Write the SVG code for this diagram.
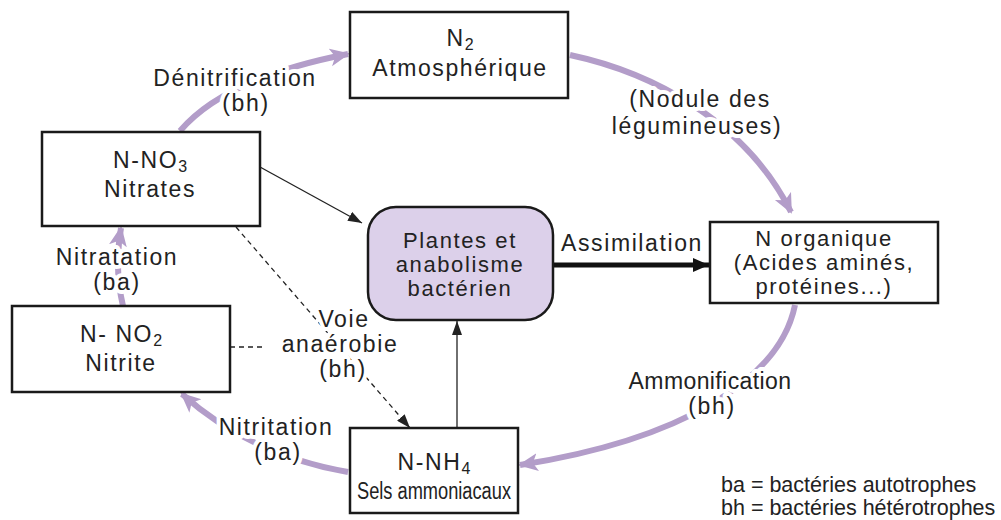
<svg xmlns="http://www.w3.org/2000/svg" width="1001" height="520" viewBox="0 0 1001 520">
<style>
text{font-family:"Liberation Sans",Arial,sans-serif;font-size:23px;letter-spacing:1.6px;fill:#222;text-anchor:middle}
.lbl{stroke:#fff;stroke-width:8;stroke-linejoin:round;paint-order:stroke}
.box{fill:#fff;stroke:#1a1a1a;stroke-width:2.5}
.cyc{fill:none;stroke:#b39dc9;stroke-width:6;stroke-linecap:butt}
.thin{fill:none;stroke:#222;stroke-width:1.3}
.dash{fill:none;stroke:#222;stroke-width:1.3;stroke-dasharray:5 4}
.sub{font-size:16px;letter-spacing:0}
.leg{text-anchor:start;font-size:21.5px;letter-spacing:0}
.tight{font-size:22px}
</style>
<defs>
<marker id="pa" viewBox="0 0 20 20" refX="18" refY="10" markerWidth="20" markerHeight="20" markerUnits="userSpaceOnUse" orient="auto">
<path d="M0,1 L20,10 L0,19 L5,10 Z" fill="#b39dc9"/>
</marker>
<marker id="ba" viewBox="0 0 14 10" refX="14" refY="5" markerWidth="14" markerHeight="10" markerUnits="userSpaceOnUse" orient="auto">
<path d="M0,0 L14,5 L0,10 Z" fill="#222"/>
</marker>
<marker id="bb" viewBox="0 0 16 14" refX="16" refY="7" markerWidth="16" markerHeight="14" markerUnits="userSpaceOnUse" orient="auto">
<path d="M0,0 L16,7 L0,14 Z" fill="#111"/>
</marker>
</defs>
<rect width="1001" height="520" fill="#fff"/>
<g id="connectors">
<path class="cyc" d="M180,131 Q225,78 348,54" marker-end="url(#pa)"/>
<path class="cyc" d="M570,55 C650,72 745,120 791,212" marker-end="url(#pa)"/>
<path class="cyc" d="M795,305 C780,380 680,440 520,465" marker-end="url(#pa)"/>
<path class="cyc" d="M348,472 Q250,455 182,394" marker-end="url(#pa)"/>
<path class="cyc" d="M123,306 Q114,268 121,228" marker-end="url(#pa)"/>
<path class="thin" d="M260,167 L362,223" marker-end="url(#ba)"/>
<path class="dash" d="M236,227 L410,428" marker-end="url(#ba)"/>
<path class="dash" d="M230,347 L266,347"/>
<path class="thin" d="M457,428 L457,321" marker-end="url(#ba)"/>
<path d="M553,265 L709,265" fill="none" stroke="#111" stroke-width="5" marker-end="url(#bb)"/>
<g id="labels">
<text class="lbl" x="235" y="86">Dénitrification</text>
<text class="lbl" x="246" y="111">(bh)</text>
<text class="lbl" x="700" y="107">(Nodule des</text>
<text class="lbl" x="697" y="134">légumineuses)</text>
<text class="lbl" x="632" y="251">Assimilation</text>
<text class="lbl" x="710" y="389" style="letter-spacing:0.4px">Ammonification</text>
<text class="lbl" x="712" y="414">(bh)</text>
<text class="lbl" x="276" y="435">Nitritation</text>
<text class="lbl" x="278" y="460">(ba)</text>
<text class="lbl" x="117" y="265">Nitratation</text>
<text class="lbl" x="117" y="290">(ba)</text>
<text class="lbl" x="344" y="327">Voie</text>
<text class="lbl" x="340" y="352">anaérobie</text>
<text class="lbl" x="343" y="377">(bh)</text>
</g>
</g>
<g id="n2">
<rect class="box" x="350" y="12" width="218" height="86"/>
<text x="460" y="46">N<tspan class="sub" dy="4">2</tspan></text>
<text x="460" y="76">Atmosphérique</text>
</g>
<g id="nitrates">
<rect class="box" x="42" y="132" width="218" height="94"/>
<text x="150" y="168">N-NO<tspan class="sub" dy="4">3</tspan></text>
<text x="150" y="197">Nitrates</text>
</g>
<g id="nitrite">
<rect class="box" x="12" y="306" width="218" height="86"/>
<text x="121" y="342">N- NO<tspan class="sub" dy="4">2</tspan></text>
<text x="121" y="371">Nitrite</text>
</g>
<g id="plantes">
<rect x="368" y="207" width="185" height="113" rx="28" ry="28" fill="#dcd0ea" stroke="#1a1a1a" stroke-width="2.5"/>
<text class="tight" x="460" y="248">Plantes et</text>
<text class="tight" x="460" y="272">anabolisme</text>
<text class="tight" x="460" y="296">bactérien</text>
</g>
<g id="norganique">
<rect class="box" x="710" y="222" width="228" height="81"/>
<text class="tight" x="824" y="246">N organique</text>
<text class="tight" x="824" y="270">(Acides aminés,</text>
<text class="tight" x="824" y="294">protéines...)</text>
</g>
<g id="nh4">
<rect class="box" x="350" y="428" width="168" height="85"/>
<text x="434" y="470">N-NH<tspan class="sub" dy="4">4</tspan></text>
<text x="434" y="499" textLength="154" lengthAdjust="spacingAndGlyphs" style="letter-spacing:0">Sels ammoniacaux</text>
</g>
<g id="legend">
<text class="leg" x="721" y="492">ba = bactéries autotrophes</text>
<text class="leg" x="721" y="515">bh = bactéries hétérotrophes</text>
</g>
</svg>
